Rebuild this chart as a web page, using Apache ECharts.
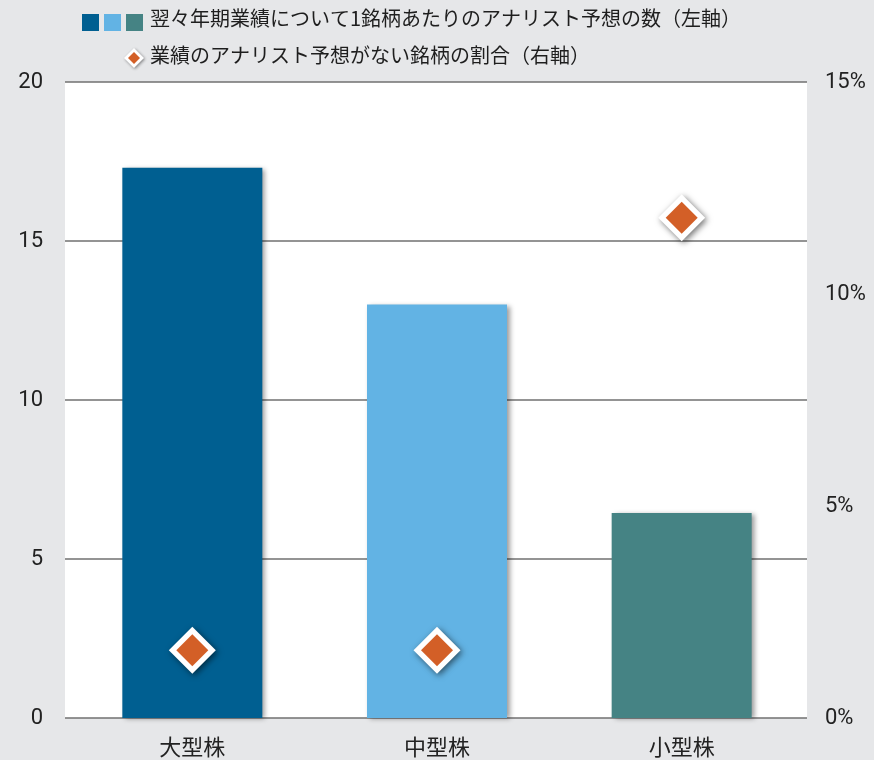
<!DOCTYPE html>
<html>
<head>
<meta charset="utf-8">
<script src="https://cdn.jsdelivr.net/npm/echarts@6/dist/echarts.min.js"></script>
<style>
  html, body { margin: 0; padding: 0; background: #e6e7e9; }
  #chart { width: 874px; height: 760px; }
</style>
</head>
<body>
<div id="chart"></div>
<script>
// Categories and values
var categories = ['大型株', '中型株', '小型株'];
var forecastCounts = [17.3, 13.0, 6.45];          // 1銘柄あたりのアナリスト予想の数（左軸）
var noForecastShare = [1.6, 1.6, 11.8];           // 予想がない銘柄の割合, %（右軸）
var leftTicks = [0, 5, 10, 15, 20];
var rightTicks = [0, 5, 10, 15];
var barColors = ['#005f91', '#62b3e4', '#458384'];
var legendLabels = [
  '翌々年期業績について1銘柄あたりのアナリスト予想の数（左軸）',
  '業績のアナリスト予想がない銘柄の割合（右軸）'
];

var FONT = 'Roboto, "Noto Sans CJK JP", sans-serif';
var JP_FONT = '"Noto Sans CJK JP", sans-serif';
var ORANGE = '#d35f27';

var chart = echarts.init(document.getElementById('chart'));

var barData = forecastCounts.map(function (v, i) {
  return { value: v, itemStyle: { color: barColors[i] } };
});

// Hand-built legend: three colour swatches for the bars, a diamond for the scatter
var legendGraphics = [];
barColors.forEach(function (c, i) {
  legendGraphics.push({
    type: 'rect',
    shape: { x: 82 + i * 22, y: 14, width: 17, height: 17 },
    style: { fill: c }
  });
});
legendGraphics.push({
  type: 'text',
  left: 150, top: 8,
  style: { text: legendLabels[0], font: '20px ' + JP_FONT, fill: '#1e1e1e' }
});
legendGraphics.push({
  type: 'polygon',
  shape: { points: [[134, 48], [144, 58], [134, 68], [124, 58]] },
  style: {
    fill: '#fff',
    shadowColor: 'rgba(0,0,0,0.45)', shadowBlur: 3, shadowOffsetX: 1, shadowOffsetY: 1
  }
});
legendGraphics.push({
  type: 'polygon',
  shape: { points: [[134, 52], [140, 58], [134, 64], [128, 58]] },
  style: { fill: ORANGE }
});
legendGraphics.push({
  type: 'text',
  left: 150, top: 45,
  style: { text: legendLabels[1], font: '20px ' + JP_FONT, fill: '#1e1e1e' }
});

var hidden = { show: false };

chart.setOption({
  backgroundColor: '#e6e7e9',
  animation: false,
  graphic: legendGraphics,
  grid: [
    // frame: white plot area, gridlines and both value scales
    { left: 65, right: 67, top: 82, bottom: 42,
      show: true, backgroundColor: '#ffffff', borderWidth: 0 },
    // data area: categories spaced slightly inside the frame
    { left: 70, right: 70, top: 82, bottom: 42 }
  ],
  xAxis: [
    { type: 'category', gridIndex: 0, data: categories,
      axisLine: hidden, axisTick: hidden, axisLabel: hidden, splitLine: hidden },
    { type: 'category', gridIndex: 1, data: categories,
      axisLine: hidden, axisTick: hidden,
      axisLabel: { color: '#222', fontSize: 22, fontFamily: JP_FONT, margin: 18 } }
  ],
  yAxis: [
    {
      type: 'value', gridIndex: 0,
      min: leftTicks[0], max: leftTicks[leftTicks.length - 1], interval: 5,
      axisLine: hidden, axisTick: hidden,
      axisLabel: { color: '#222', fontSize: 22, fontFamily: FONT, margin: 22 },
      splitLine: { lineStyle: { color: '#707070', width: 1.5 } }
    },
    {
      type: 'value', gridIndex: 0,
      min: rightTicks[0], max: rightTicks[rightTicks.length - 1], interval: 5,
      position: 'right',
      axisLine: hidden, axisTick: hidden, splitLine: hidden,
      axisLabel: {
        color: '#222', fontSize: 22, fontFamily: FONT, margin: 18,
        formatter: '{value}%'
      }
    },
    {
      type: 'value', gridIndex: 1,
      min: leftTicks[0], max: leftTicks[leftTicks.length - 1], interval: 5,
      axisLine: hidden, axisTick: hidden, axisLabel: hidden, splitLine: hidden
    },
    {
      type: 'value', gridIndex: 1, position: 'right',
      min: rightTicks[0], max: rightTicks[rightTicks.length - 1], interval: 5,
      axisLine: hidden, axisTick: hidden, axisLabel: hidden, splitLine: hidden
    }
  ],
  series: [
    {
      name: legendLabels[0],
      type: 'bar',
      xAxisIndex: 1, yAxisIndex: 2,
      data: barData,
      barWidth: 140,
      itemStyle: {
        shadowColor: 'rgba(0,0,0,0.4)', shadowBlur: 5,
        shadowOffsetX: 3, shadowOffsetY: 1
      },
      z: 2
    },
    // white halo with drop shadow under each marker
    {
      name: legendLabels[1] + ' halo',
      type: 'scatter',
      xAxisIndex: 1, yAxisIndex: 3,
      data: noForecastShare,
      symbol: 'diamond',
      symbolSize: 47,
      silent: true,
      itemStyle: {
        color: '#ffffff', opacity: 1,
        shadowColor: 'rgba(0,0,0,0.55)', shadowBlur: 6,
        shadowOffsetX: 2, shadowOffsetY: 2
      },
      z: 3
    },
    {
      name: legendLabels[1],
      type: 'scatter',
      xAxisIndex: 1, yAxisIndex: 3,
      data: noForecastShare,
      symbol: 'diamond',
      symbolSize: 32,
      itemStyle: { color: ORANGE, opacity: 1 },
      z: 4
    }
  ]
});
</script>
</body>
</html>
